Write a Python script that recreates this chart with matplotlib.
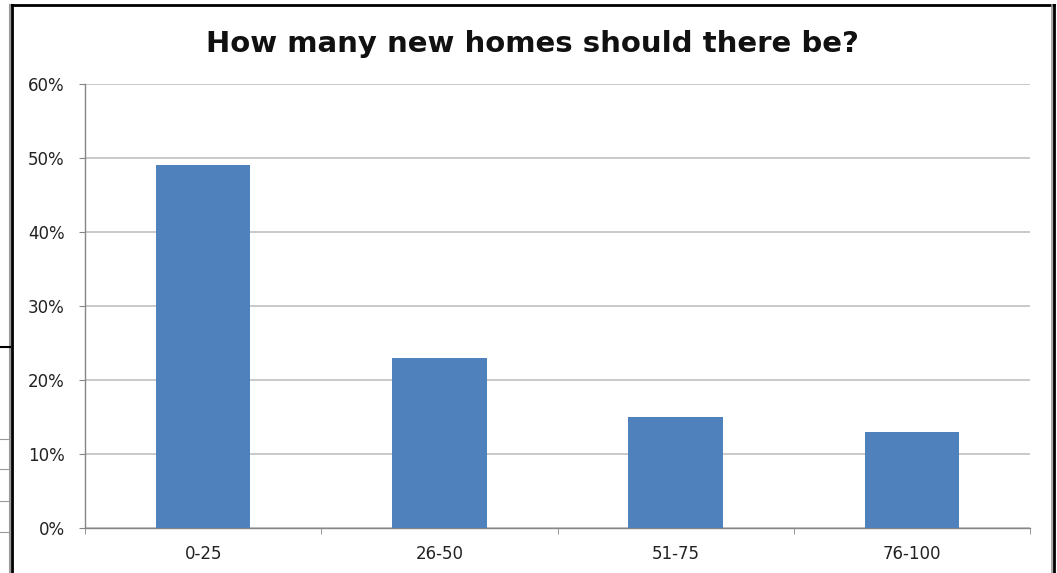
import matplotlib
matplotlib.use("Agg")
import matplotlib.pyplot as plt
from matplotlib.lines import Line2D
from matplotlib.ticker import FuncFormatter, FixedLocator

# --- Daten ---
categories = ["0-25", "26-50", "51-75", "76-100"]
shares = [0.49, 0.23, 0.15, 0.13]
y_ticks = [0.0, 0.1, 0.2, 0.3, 0.4, 0.5, 0.6]
title = "How many new homes should there be?"

BAR_COLOR = "#4F81BD"
GRID_COLOR = "#C0C0C0"
AXIS_COLOR = "#868686"

plt.rcParams['font.family'] = ['DejaVu Sans']

W, H = 1057, 573
fig = plt.figure(figsize=(W / 100, H / 100), dpi=100)
ax = fig.add_axes([85 / W, 1 - 528 / H, (1030 - 85) / W, (528 - 84) / H])

x = list(range(len(categories)))
ax.bar(x, shares, width=0.4, color=BAR_COLOR, zorder=3)

ax.set_xlim(-0.5, len(categories) - 0.5)
ax.set_ylim(0, 0.6)
ax.set_yticks(y_ticks)
ax.yaxis.set_major_formatter(FuncFormatter(lambda v, _: f"{v * 100:.0f}%"))
ax.grid(axis="y", color=GRID_COLOR, linewidth=1.2, zorder=0)

ax.set_xticks(x)
ax.set_xticklabels(categories)
ax.xaxis.set_minor_locator(FixedLocator([i - 0.5 for i in range(len(categories) + 1)]))
ax.tick_params(axis="x", which="major", length=0, pad=12, labelsize=12, labelcolor="#222222")
ax.tick_params(axis="x", which="minor", length=4.5, color=AXIS_COLOR)
ax.tick_params(axis="y", length=4.5, color=AXIS_COLOR, pad=10, labelsize=12, labelcolor="#222222")

for side in ["top", "right"]:
    ax.spines[side].set_visible(False)
for side in ["left", "bottom"]:
    ax.spines[side].set_color(AXIS_COLOR)
    ax.spines[side].set_linewidth(1.0)

fig.text(532 / W, 1 - 44 / H, title, ha="center", va="center",
         fontsize=21, fontweight="bold", family="DejaVu Sans", color="#111111")

# Rahmen um das Diagramm (Screenshot-Kante)
def px_line(x0, y0, x1, y1, color="black", lw=2.0):
    fig.add_artist(Line2D([x0 / W, x1 / W], [1 - y0 / H, 1 - y1 / H],
                          color=color, linewidth=lw, transform=fig.transFigure))

px_line(10, 5, 1054, 5)
px_line(10, 5, 10, 573, color="#9A9A9A", lw=1.5)
px_line(12, 5, 12, 573)
px_line(1052, 5, 1052, 573, color="#9A9A9A", lw=1.2)
px_line(1054, 5, 1054, 573)

# kleine Reste links am Rand
px_line(0, 347, 10, 347, lw=1.5)
for yy in [439, 469, 501, 532]:
    px_line(0, yy, 10, yy, color="#9A9A9A", lw=0.8)

fig.savefig("out.png", dpi=100)
